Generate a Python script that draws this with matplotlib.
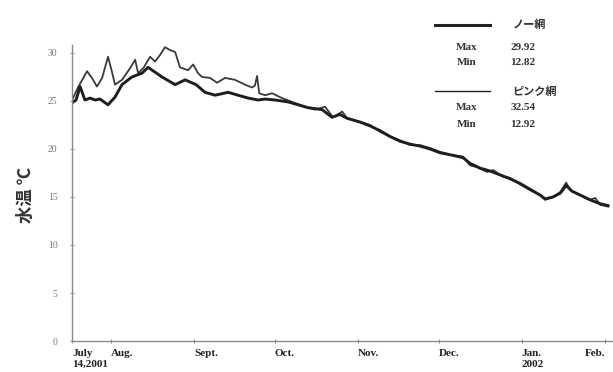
import matplotlib
matplotlib.use("Agg")
import matplotlib.pyplot as plt
from matplotlib.lines import Line2D
from datetime import date

# days since 14 July 2001
start = date(2001, 7, 14)

thin_days = [3.9, 5.7, 9.1, 10.9, 12.8, 14.7, 16.9, 18.4, 19.5, 22.1, 25.1, 27.0, 28.1, 30.0,
             32.6, 34.4, 36.3, 38.1, 40.0, 41.9, 43.7, 46.7, 48.6, 50.4, 51.9, 54.9, 57.5,
             60.5, 64.2, 67.9, 70.5, 71.6, 72.4, 73.2, 75.4, 78.0, 81.7, 85.4, 90.3, 94.0,
             97.7, 100.7, 104.1, 105.9, 110.8, 114.5, 118.2, 121.9, 125.7, 129.4, 133.1,
             136.8, 140.6, 144.3, 149.1, 151.7, 154.3, 158.1, 160.3, 164.0, 166.6, 170.4,
             174.1, 177.8, 179.7, 182.6, 185.3, 187.5, 189.0, 192.7, 196.4, 198.3, 200.1, 203.1]
thin_temp = [25.3, 26.4, 28.1, 27.4, 26.5, 27.4, 29.6, 28.0, 26.7, 27.2, 28.4, 29.3, 27.9, 28.4,
             29.6, 29.1, 29.8, 30.6, 30.3, 30.1, 28.5, 28.2, 28.8, 27.9, 27.5, 27.4, 26.9,
             27.4, 27.2, 26.7, 26.4, 26.6, 27.6, 25.8, 25.6, 25.8, 25.3, 24.9, 24.4, 24.1,
             24.4, 23.3, 23.9, 23.2, 22.8, 22.5, 21.8, 21.3, 20.9, 20.4, 20.4,
             20.1, 19.7, 19.4, 19.2, 18.3, 18.1, 17.6, 17.8, 17.1, 17.0, 16.3,
             15.7, 15.2, 14.7, 15.0, 15.5, 16.5, 15.7, 15.2, 14.7, 14.9, 14.2, 14.0]

thick_days = [3.5, 5.0, 6.5, 8.3, 10.2, 12.1, 13.9, 16.9, 19.5, 22.1, 25.8, 29.6, 31.8, 34.4,
              37.0, 41.9, 45.6, 49.7, 53.0, 56.8, 61.6, 65.3, 69.1, 72.8, 75.4, 79.1, 84.0,
              87.7, 91.4, 96.6, 100.3, 103.3, 105.9, 110.8, 114.5, 118.2, 121.9, 125.7, 129.4,
              133.1, 136.8, 140.6, 144.3, 149.1, 151.7, 155.5, 159.2, 162.9, 166.6, 170.4,
              174.1, 177.8, 179.7, 182.6, 185.3, 187.5, 189.7, 192.7, 196.4, 200.1, 203.1]
thick_temp = [24.8, 25.1, 26.5, 25.1, 25.3, 25.1, 25.2, 24.6, 25.4, 26.7, 27.5, 27.9, 28.5, 28.0,
              27.5, 26.7, 27.2, 26.7, 25.9, 25.6, 25.9, 25.6, 25.3, 25.1, 25.2, 25.1, 24.9,
              24.6, 24.3, 24.1, 23.3, 23.6, 23.2, 22.8, 22.4, 21.9, 21.3, 20.8, 20.5,
              20.3, 20.0, 19.6, 19.4, 19.1, 18.5, 18.0, 17.7, 17.3, 16.9, 16.4,
              15.8, 15.2, 14.8, 15.0, 15.4, 16.2, 15.6, 15.2, 14.7, 14.3, 14.1]

month_dates = [date(2001, 8, 1), date(2001, 9, 1), date(2001, 10, 1), date(2001, 11, 1),
               date(2001, 12, 1), date(2002, 1, 1), date(2002, 2, 1)]
month_labels = ["Aug.", "Sept.", "Oct.", "Nov.", "Dec.", "Jan.\n2002", "Feb."]

legend_names = ["ノー網", "ピンク網"]
legend_max = [29.92, 32.54]
legend_min = [12.82, 12.92]

serif = "Liberation Serif"
jp = ["Noto Sans CJK JP", "DejaVu Sans"]

fig = plt.figure(figsize=(6.13, 3.72), dpi=100)
ax = fig.add_axes([0.1175, 0.0833, 0.881, 0.795])

ax.plot(thin_days, thin_temp, color="#3a3a3a", lw=1.3)
ax.plot(thick_days, thick_temp, color="#1e1e1e", lw=2.1)

x0, x1 = 3.5, 204.6
ax.set_xlim(x0, x1)
ax.set_ylim(0, 30.8)

ticks = [x0] + [(d - start).days for d in month_dates]
ax.set_xticks(ticks)
labels = ax.set_xticklabels(["July\n14,2001"] + month_labels, fontfamily=serif,
                            fontweight="bold", fontsize=8, ha="left", va="top",
                            linespacing=1.35, color="#222")
labels[-1].set_ha("right")
ax.set_yticks(range(0, 31, 5))
ax.set_yticklabels([str(v) for v in range(0, 31, 5)], fontfamily=serif, fontsize=7,
                   color="#777")
ax.tick_params(axis="x", direction="inout", length=3, width=0.8, color="#888", pad=4)
ax.tick_params(axis="y", direction="inout", length=3, width=0.8, color="#999", pad=9)

for s in ["top", "right"]:
    ax.spines[s].set_visible(False)
for s in ["left", "bottom"]:
    ax.spines[s].set_color("#8a8a8a")
    ax.spines[s].set_linewidth(1.0)

fig.text(0.042, 0.475, "水温 ℃", rotation=90, fontsize=12.5, family=jp, fontweight="bold",
         color="#333", ha="center", va="center")

# legend block
rows = [(0.933, 0.871, 0.833, 2.2), (0.755, 0.710, 0.664, 1.0)]
for (y_line, y_max, y_min, lw), name, mx, mn in zip(rows, legend_names, legend_max, legend_min):
    fig.add_artist(Line2D([0.710, 0.799], [y_line, y_line], color="#222", lw=lw))
    fig.text(0.836, y_line, name, family=jp, fontsize=8, fontweight="bold", color="#333",
             ha="left", va="center")
    fig.text(0.762, y_max, "Max", family=serif, fontsize=8, fontweight="bold", color="#333",
             ha="center", va="center")
    fig.text(0.762, y_min, "Min", family=serif, fontsize=8, fontweight="bold", color="#333",
             ha="center", va="center")
    fig.text(0.833, y_max, f"{mx:.2f}", family=serif, fontsize=8, fontweight="bold",
             color="#333", ha="left", va="center")
    fig.text(0.833, y_min, f"{mn:.2f}", family=serif, fontsize=8, fontweight="bold",
             color="#333", ha="left", va="center")

fig.savefig("out.png", dpi=100)
